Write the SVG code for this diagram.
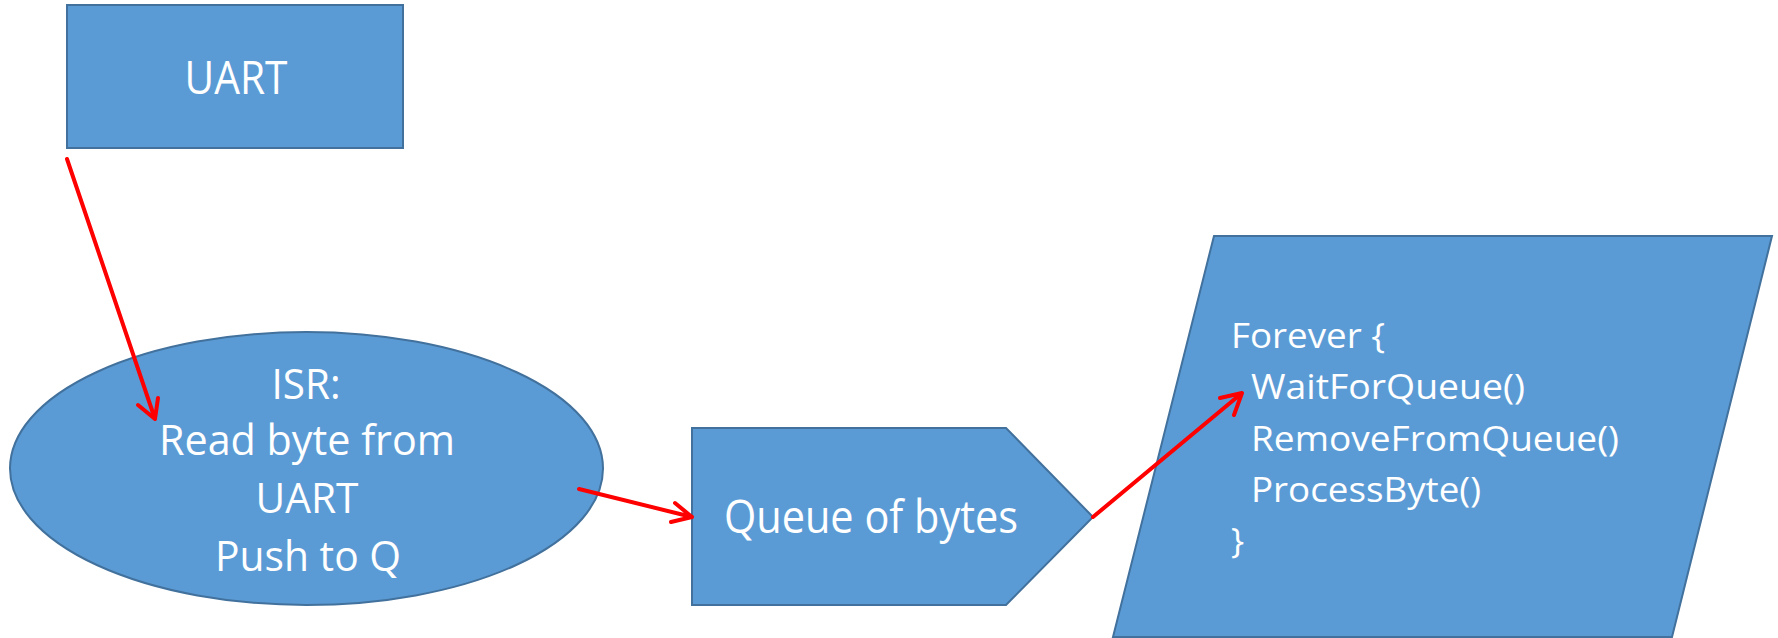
<svg xmlns="http://www.w3.org/2000/svg" width="1778" height="638" viewBox="0 0 1778 638">
<style>
.shape{fill:#5B9BD5;stroke:#41719C;stroke-width:2}
.t{fill:#FFFFFF;font-family:"Open Sans","Noto Sans","Liberation Sans",sans-serif}
.big{font-size:46px}
.mid{font-size:42px}
.code{font-size:35px}
.c{text-anchor:middle}
.conn{fill:none;stroke:#FF0000;stroke-width:4;stroke-linecap:round;stroke-linejoin:round}
</style>
<rect width="1778" height="638" fill="#FFFFFF"/>
<g id="uart">
<rect class="shape" x="67" y="5" width="336" height="143"/>
<text class="t big c" x="236" y="94" textLength="103" lengthAdjust="spacingAndGlyphs">UART</text>
</g>
<g id="isr">
<ellipse class="shape" cx="306.5" cy="468.5" rx="296.5" ry="136.5"/>
<text class="t mid c" x="306" y="399" textLength="69" lengthAdjust="spacingAndGlyphs">ISR:</text>
<text class="t mid c" x="307" y="455" textLength="296" lengthAdjust="spacingAndGlyphs">Read byte from</text>
<text class="t mid c" x="307" y="513" textLength="103" lengthAdjust="spacingAndGlyphs">UART</text>
<text class="t mid c" x="308" y="571" textLength="186" lengthAdjust="spacingAndGlyphs">Push to Q</text>
</g>
<g id="queue">
<polygon class="shape" points="692,428 1006,428 1093,517 1006,605 692,605"/>
<text class="t big" x="724" y="533" textLength="294" lengthAdjust="spacingAndGlyphs">Queue of bytes</text>
</g>
<g id="task">
<polygon class="shape" points="1214,236 1772,236 1672,637 1113,637"/>
<text class="t code" x="1231" y="348" textLength="154" lengthAdjust="spacingAndGlyphs">Forever {</text>
<text class="t code" x="1251" y="399" textLength="274" lengthAdjust="spacingAndGlyphs">WaitForQueue()</text>
<text class="t code" x="1251" y="451" textLength="368" lengthAdjust="spacingAndGlyphs">RemoveFromQueue()</text>
<text class="t code" x="1251" y="502" textLength="230" lengthAdjust="spacingAndGlyphs">ProcessByte()</text>
<text class="t code" x="1231" y="553">}</text>
</g>
<g id="connectors">
<path class="conn" d="M67,159 L155,419 M138,405 L155,419 L158,398"/>
<path class="conn" d="M579,489 L692,517 M671,522 L692,517 L675,503"/>
<path class="conn" d="M1093,517 L1242,393 M1220,398 L1242,393 L1234,415"/>
</g>
</svg>
